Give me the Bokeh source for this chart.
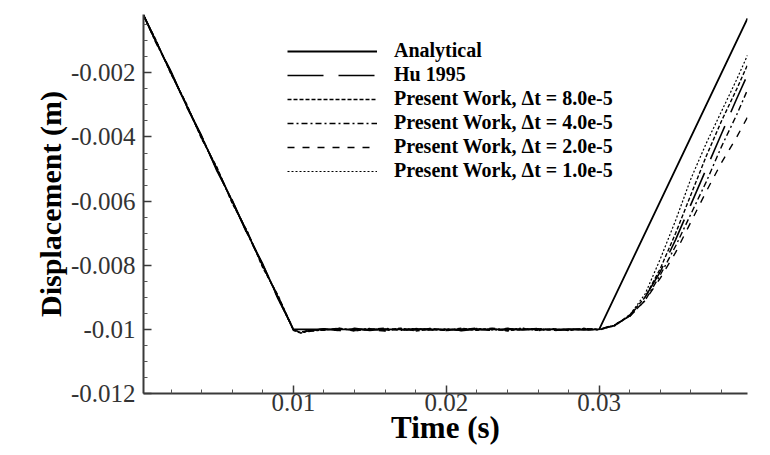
from bokeh.plotting import figure
from bokeh.models import FixedTicker, Range1d, Legend, LegendItem
from bokeh.embed import file_html
from bokeh.resources import INLINE

# ---------------- data ----------------
t_analytical = [0.0002, 0.0100, 0.0300, 0.0397]
d_analytical = [-0.0002, -0.0100, -0.0100, -0.0003]

t_num = [0.0002, 0.001, 0.002, 0.003, 0.004, 0.005, 0.006, 0.007, 0.008, 0.009,
         0.0100, 0.0105, 0.011,
         0.012, 0.013, 0.014, 0.015, 0.016, 0.017, 0.018, 0.019, 0.020, 0.021,
         0.022, 0.023, 0.024, 0.025, 0.026, 0.027, 0.028, 0.029, 0.030,
         0.031, 0.032, 0.033, 0.034, 0.035, 0.036, 0.037, 0.038, 0.039, 0.0397]

d_hu1995 = [-0.0002, -0.00102, -0.00195, -0.00304, -0.00396, -0.00506, -0.00597, -0.00705, -0.00796, -0.00905,
            -0.00998, -0.01008, -0.01005,
            -0.00998, -0.01004, -0.00997, -0.01003, -0.00999, -0.01004, -0.00998, -0.01002, -0.00997, -0.01004,
            -0.00999, -0.01003, -0.00997, -0.01002, -0.00998, -0.01004, -0.00999, -0.01002, -0.00999,
            -0.00988, -0.00958, -0.0090, -0.0082, -0.0072, -0.0061, -0.0050, -0.0039, -0.0028, -0.00206]

d_pw_80 = [-0.0002, -0.00096, -0.00204, -0.00295, -0.00406, -0.00494, -0.00607, -0.00695, -0.00808, -0.00894,
           -0.01003, -0.01012, -0.01002,
           -0.01003, -0.00996, -0.01005, -0.00998, -0.01003, -0.00996, -0.01005, -0.00999, -0.01004, -0.00996,
           -0.01003, -0.00998, -0.01005, -0.00997, -0.01003, -0.00998, -0.01004, -0.00997, -0.01001,
           -0.00988, -0.00955, -0.0090, -0.0081, -0.0070, -0.0058, -0.0046, -0.0035, -0.0025, -0.00175]

d_pw_40 = [-0.0002, -0.00105, -0.00197, -0.00302, -0.00399, -0.00503, -0.00599, -0.00703, -0.00799, -0.00903,
           -0.01001, -0.01010, -0.01007,
           -0.01001, -0.00997, -0.01004, -0.01000, -0.00996, -0.01003, -0.01001, -0.00997, -0.01004, -0.00999,
           -0.01002, -0.00996, -0.01003, -0.01000, -0.00997, -0.01003, -0.01001, -0.00998, -0.01002,
           -0.00987, -0.00958, -0.0091, -0.0083, -0.0074, -0.0064, -0.0054, -0.0043, -0.0033, -0.00253]

d_pw_20 = [-0.0002, -0.00099, -0.00201, -0.00297, -0.00403, -0.00498, -0.00602, -0.00698, -0.00803, -0.00898,
           -0.01002, -0.01009, -0.01004,
           -0.00999, -0.01004, -0.00998, -0.01002, -0.01005, -0.00998, -0.01002, -0.00997, -0.01003, -0.01001,
           -0.00996, -0.01004, -0.00999, -0.01002, -0.00997, -0.01004, -0.00998, -0.01003, -0.01000,
           -0.00985, -0.00960, -0.00910, -0.00840, -0.00760, -0.00665, -0.00570, -0.00480, -0.00400, -0.00338]

d_pw_10 = [-0.0002, -0.00101, -0.00199, -0.00301, -0.00397, -0.00502, -0.00601, -0.00697, -0.00802, -0.00899,
           -0.01000, -0.01011, -0.01006,
           -0.01002, -0.00998, -0.01003, -0.00997, -0.01004, -0.01000, -0.00997, -0.01003, -0.00998, -0.01004,
           -0.00997, -0.01002, -0.01000, -0.00996, -0.01004, -0.00999, -0.01003, -0.00997, -0.01000,
           -0.00990, -0.00955, -0.0089, -0.0078, -0.0066, -0.0053, -0.0042, -0.0032, -0.0022, -0.00145]

series_labels = ["Analytical", "Hu 1995",
                 "Present Work, \u0394t = 8.0e-5", "Present Work, \u0394t = 4.0e-5",
                 "Present Work, \u0394t = 2.0e-5", "Present Work, \u0394t = 1.0e-5"]

x_ticks = [0.01, 0.02, 0.03]
x_tick_labels = ["0.01", "0.02", "0.03"]
x_minor = [0.002, 0.004, 0.006, 0.008, 0.012, 0.014, 0.016, 0.018, 0.022, 0.024,
           0.026, 0.028, 0.032, 0.034, 0.036, 0.038]
y_ticks = [-0.012, -0.010, -0.008, -0.006, -0.004, -0.002]
y_tick_labels = ["-0.012", "-0.01", "-0.008", "-0.006", "-0.004", "-0.002"]
y_minor = [-0.0115, -0.011, -0.0105, -0.0095, -0.009, -0.0085, -0.0075, -0.007, -0.0065,
           -0.0055, -0.005, -0.0045, -0.0035, -0.003, -0.0025, -0.0015, -0.001, -0.0005]

# ---------------- figure ----------------
W, H = 762, 447
p = figure(width=W, height=H, output_backend="svg", toolbar_location=None,
           x_range=Range1d(0.0002, 0.0397), y_range=Range1d(-0.012, -0.00018),
           min_border_left=143, min_border_right=15, min_border_top=14, min_border_bottom=52)
p.outline_line_color = None
p.xgrid.visible = False
p.ygrid.visible = False
p.background_fill_color = "white"

FONT = "Liberation Serif"
for ax in (p.xaxis[0], p.yaxis[0]):
    ax.axis_line_width = 2
    ax.axis_line_color = "#3a3a3a"
    ax.major_tick_line_color = "#3a3a3a"
    ax.minor_tick_line_color = "#555555"
    ax.major_tick_line_width = 1.5
    ax.major_tick_in = 8
    ax.major_tick_out = 0
    ax.minor_tick_in = 4
    ax.minor_tick_out = 0
    ax.major_label_text_font = FONT
    ax.major_label_text_font_size = "25px"
    ax.major_label_text_color = "#333333"
    ax.axis_label_text_font = FONT
    ax.axis_label_text_font_style = "bold"
    ax.axis_label_text_color = "black"

p.xaxis.axis_label_text_font_size = "31px"
p.yaxis.axis_label_text_font_size = "30px"
p.xaxis.ticker = FixedTicker(ticks=x_ticks, minor_ticks=x_minor)
p.xaxis.major_label_overrides = dict(zip(x_ticks, x_tick_labels))
p.yaxis.ticker = FixedTicker(ticks=y_ticks, minor_ticks=y_minor)
p.yaxis.major_label_overrides = dict(zip(y_ticks, y_tick_labels))
p.xaxis.axis_label = "Time (s)"
p.yaxis.axis_label = "Displacement (m)"
p.xaxis.major_label_standoff = 0
p.xaxis.axis_label_standoff = -4
p.yaxis.major_label_standoff = 8
p.yaxis.axis_label_standoff = 1

r_an = p.line(t_analytical, d_analytical, line_color="black", line_width=1.8)
r_hu = p.line(t_num, d_hu1995, line_color="black", line_width=1.6, line_dash="36 15")
r_80 = p.line(t_num, d_pw_80, line_color="black", line_width=1.4, line_dash="4 2")
r_40 = p.line(t_num, d_pw_40, line_color="black", line_width=1.4, line_dash="6 3 2 3")
r_20 = p.line(t_num, d_pw_20, line_color="black", line_width=1.4, line_dash="7 8")
r_10 = p.line(t_num, d_pw_10, line_color="black", line_width=1.2, line_dash="2 2")

renderers = [r_an, r_hu, r_80, r_40, r_20, r_10]
items = [LegendItem(label=lab, renderers=[r]) for lab, r in zip(series_labels, renderers)]
legend = Legend(items=items, location=(144, 211))
legend.border_line_color = None
legend.background_fill_alpha = 0
legend.padding = 0
legend.margin = 0
legend.spacing = 1
legend.glyph_width = 90
legend.glyph_height = 20
legend.label_height = 20
legend.label_standoff = 17
legend.label_text_font = FONT
legend.label_text_font_style = "bold"
legend.label_text_font_size = "20px"
legend.label_text_color = "black"
p.add_layout(legend)

open("out.html", "w").write(file_html(p, INLINE))
